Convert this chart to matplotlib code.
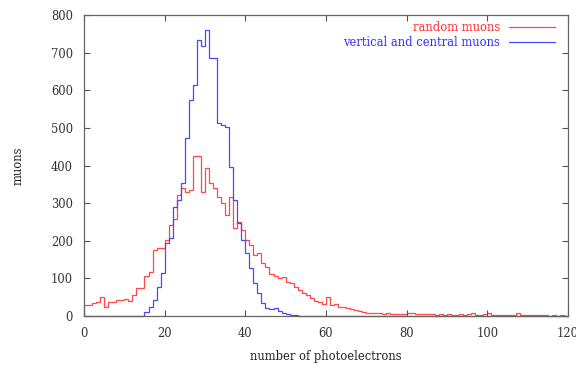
import numpy as np
import matplotlib
matplotlib.use('Agg')
import matplotlib.pyplot as plt

# histogram bins: 1 photoelectron wide, 0..120
bin_edges = np.arange(0, 121, 1)

# counts, one value per bin
random_muons = [
    28, 28, 35, 38, 51, 25, 38, 38, 42, 43,
    46, 40, 56, 74, 74, 105, 118, 176, 180, 180,
    202, 242, 258, 322, 340, 330, 335, 424, 424, 330,
    393, 353, 340, 317, 300, 268, 315, 234, 251, 229,
    202, 189, 162, 167, 141, 131, 112, 105, 101, 104,
    91, 87, 78, 70, 62, 56, 48, 40, 36, 33,
    51, 30, 33, 25, 23, 20, 18, 15, 12, 10,
    9, 8, 8, 7, 6, 9, 6, 5, 6, 5,
    8, 9, 6, 5, 4, 5, 4, 3, 4, 3,
    4, 3, 3, 4, 3, 5, 7, 3, 2, 4,
    8, 3, 2, 3, 2, 3, 2, 7, 3, 2,
    3, 2, 2, 3, 2, 1, 2, 1, 2, 1,
]

vertical_central_muons = [
    0, 0, 0, 0, 0, 0, 0, 0, 0, 0,
    0, 0, 0, 0, 0, 10, 25, 43, 78, 113,
    194, 207, 291, 308, 353, 473, 574, 614, 734, 718,
    760, 686, 686, 512, 508, 503, 397, 308, 247, 202,
    167, 128, 88, 61, 35, 22, 18, 20, 14, 8,
    4, 2, 2, 1, 1, 0, 1, 0, 0, 1,
    0, 0, 0, 0, 0, 0, 0, 0, 0, 0,
    0, 0, 0, 0, 0, 0, 0, 0, 0, 0,
    0, 0, 0, 0, 0, 0, 0, 0, 0, 0,
    0, 0, 0, 0, 0, 0, 0, 0, 0, 0,
    0, 0, 0, 0, 0, 0, 0, 0, 0, 0,
    0, 0, 0, 0, 0, 0, 0, 0, 0, 0,
]

x_ticks = np.arange(0, 121, 20)
y_ticks = np.arange(0, 801, 100)

font = 'DejaVu Serif'
fsize = 8.3

fig = plt.figure(figsize=(5.76, 3.67), dpi=100)
ax = fig.add_axes([0.1458, 0.139, 0.8402, 0.820])

ax.stairs(random_muons, bin_edges, color='#ff4848', lw=0.9,
          label='random muons', clip_on=False)
ax.stairs(vertical_central_muons, bin_edges, color='#4848ff', lw=0.9,
          label='vertical and central muons', clip_on=False)

ax.set_xlim(0, 120)
ax.set_ylim(0, 800)
ax.set_xticks(x_ticks)
ax.set_yticks(y_ticks)
ax.tick_params(direction='in', length=4, width=0.8, color='#555555',
               top=True, right=True, labelsize=fsize, pad=8)
for lbl in ax.get_xticklabels() + ax.get_yticklabels():
    lbl.set_family(font)
    lbl.set_color('#333333')
for s in ax.spines.values():
    s.set_color('#666666')
    s.set_linewidth(0.9)

ax.set_xlabel('number of photoelectrons', family=font, fontsize=fsize,
              color='#222222', labelpad=7)
ax.set_ylabel('muons', family=font, fontsize=fsize, color='#222222',
              labelpad=19)

leg = ax.legend(loc='upper right', markerfirst=False, frameon=False,
                prop={'family': font, 'size': fsize}, handlelength=4.0,
                labelspacing=0.15, borderaxespad=0.0,
                bbox_to_anchor=(0.983, 0.995))
for txt, c in zip(leg.get_texts(), ['#ff3030', '#3030ff']):
    txt.set_color(c)

fig.savefig('out.png', dpi=100)
